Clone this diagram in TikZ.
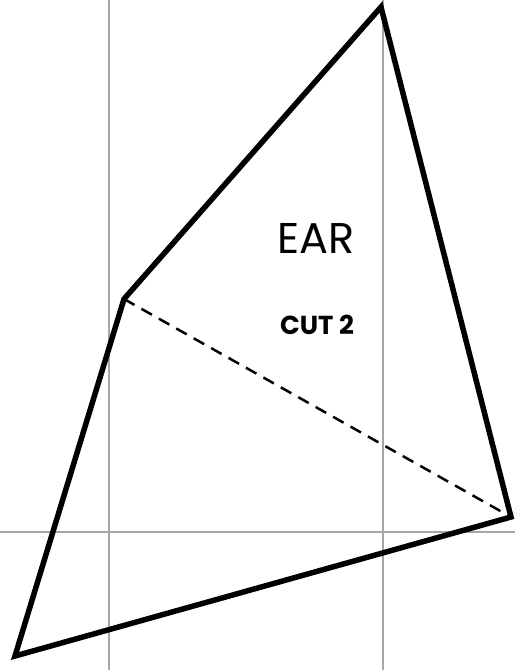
\documentclass[tikz,border=0pt]{standalone}
\usepackage{fontspec}
\setmainfont{Poppins}
\begin{document}
\begin{tikzpicture}[x=1pt,y=-1pt,
  grid/.style={draw=black!35,line width=2pt},
  edge/.style={draw=black,line width=5.5pt,line join=miter},
  cut/.style={draw=black,line width=2.5pt,dash pattern=on 12pt off 8pt},
  lbl/.style={inner sep=0pt,anchor=center}]
\useasboundingbox (0,0) rectangle (515,670);
\draw[grid] (109,0) -- (109,670);
\draw[grid] (383,0) -- (383,670);
\draw[grid] (0,532) -- (515,532);
\coordinate (T) at (381,7);
\coordinate (R) at (511,517);
\coordinate (B) at (15,656);
\coordinate (L) at (124,299);
\draw[cut] (L) -- (R);
\draw[edge] (T) -- (R) -- (B) -- (L) -- cycle;
\node[lbl,font=\fontsize{43}{43}\selectfont] (ear) at (316,238) {EAR};
\node[lbl,font=\fontsize{26}{26}\selectfont\bfseries] (cut2) at (317,325) {CUT 2};
\end{tikzpicture}
\end{document}
